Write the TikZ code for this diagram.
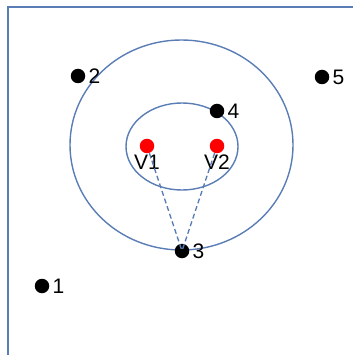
\documentclass[tikz,border=0pt]{standalone}
\usepackage{fontspec}
\setmainfont{Liberation Sans}
\usetikzlibrary{positioning}
\definecolor{ringblue}{HTML}{5A7DB6}

\begin{document}
\begin{tikzpicture}[
  x=1pt, y=-1pt,
  pt/.style={circle, fill=black, inner sep=0pt, minimum size=14.5pt},
  src/.style={circle, fill=red, inner sep=0pt, minimum size=14.5pt},
  lbl/.style={inner sep=0pt, font=\fontsize{21}{24}\selectfont},
  ring/.style={draw=ringblue, line width=1.4pt},
  link/.style={draw=ringblue, line width=1.3pt, dash pattern=on 5pt off 3pt},
]
  \useasboundingbox (0,0) rectangle (353,355);

  % Frame
  \draw[ringblue, line width=1.6pt] (8,355) -- (8,7) -- (353,7);

  % Rings
  \draw[ring] (181.5,145) ellipse (111.5 and 105);
  \draw[ring] (182,146.5) ellipse (56 and 43.5);

  % Sources
  \node[src] (v1) at (147,146) {};
  \node[src] (v2) at (217,146) {};
  \node[lbl, below=1pt of v1] (lv1) {V1};
  \node[lbl, below=1pt of v2] (lv2) {V2};

  % Points
  \node[pt] (p1) at (42,286) {};
  \node[pt] (p2) at (78,76) {};
  \node[pt] (p3) at (182,251) {};
  \node[pt] (p4) at (217,111) {};
  \node[pt] (p5) at (322,77) {};
  \foreach \i in {1,...,5}
    \node[lbl, right=3pt of p\i] (l\i) {\i};

  % Links
  \draw[link] (v1) -- (p3.center);
  \draw[link] (v2) -- (p3.center);
\end{tikzpicture}
\end{document}
